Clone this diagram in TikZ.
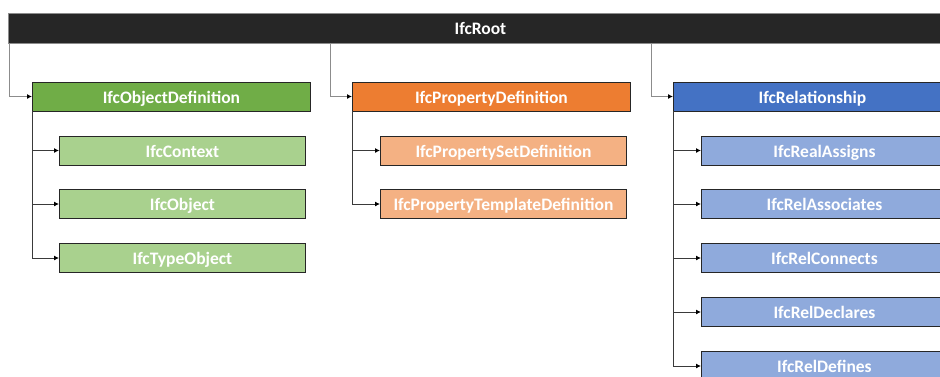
\documentclass[tikz,border=0pt]{standalone}
\usepackage{fontspec}
\setmainfont{Carlito}
\usetikzlibrary{arrows.meta}
\definecolor{rootc}{HTML}{262626}
\definecolor{gA}{HTML}{70AD47}
\definecolor{gB}{HTML}{A9D18E}
\definecolor{oA}{HTML}{ED7D31}
\definecolor{oB}{HTML}{F4B183}
\definecolor{bA}{HTML}{4472C4}
\definecolor{bB}{HTML}{8FAADC}
\definecolor{edgec}{HTML}{262626}
\definecolor{linec}{HTML}{8C8C8C}
\definecolor{linek}{HTML}{3A3A3A}
\tikzset{
  box/.style={draw=edgec, line width=0.9pt, text=white, font=\fontsize{17.5}{19}\selectfont\bfseries, inner sep=0pt, text height=13pt, text depth=0pt, anchor=west},
  parentbox/.style={box, minimum width=278pt, minimum height=29pt},
  childbox/.style={box, minimum width=246pt, minimum height=29pt},
  conn/.style={line width=0.9pt, -{Latex[length=5pt,width=5pt,color=black]}},
}
\begin{document}
\begin{tikzpicture}[x=1pt,y=-1pt]
\useasboundingbox (0,0) rectangle (940,376);
\clip (0,0) rectangle (940,376);
\node[box, fill=rootc, draw=linec, minimum width=944pt, minimum height=30pt] (root) at (8,28) {IfcRoot};

\node[parentbox, fill=gA] (objdef) at (32,96.5) {IfcObjectDefinition};
\node[childbox, fill=gB] (ctx) at (59,150.5) {IfcContext};
\node[childbox, fill=gB] (obj) at (59,204) {IfcObject};
\node[childbox, fill=gB] (typ) at (59,258) {IfcTypeObject};

\node[parentbox, fill=oA] (propdef) at (352,96.5) {IfcPropertyDefinition};
\node[childbox, fill=oB] (pset) at (380,150.5) {IfcPropertySetDefinition};
\node[childbox, fill=oB] (ptpl) at (380,204) {IfcPropertyTemplateDefinition};

\node[parentbox, fill=bA] (rel) at (673,96.5) {IfcRelationship};
\node[childbox, fill=bB] (ra) at (701,150.5) {IfcRealAssigns};
\node[childbox, fill=bB] (rassoc) at (701,204) {IfcRelAssociates};
\node[childbox, fill=bB] (rconn) at (701,258) {IfcRelConnects};
\node[childbox, fill=bB] (rdecl) at (701,312) {IfcRelDeclares};
\node[childbox, fill=bB] (rdef) at (701,366) {IfcRelDefines};

\draw[conn, draw=linec] ([xshift=1pt]root.south west) |- (objdef.west);
\draw[conn, draw=linec] ([xshift=-22pt]propdef.west |- root.south) |- (propdef.west);
\draw[conn, draw=linec] ([xshift=-22pt]rel.west |- root.south) |- (rel.west);

\foreach \c in {ctx,obj,typ}
  \draw[conn, draw=linek] ([xshift=0.5pt]objdef.south west) |- (\c.west);
\foreach \c in {pset,ptpl}
  \draw[conn, draw=linek] ([xshift=0.5pt]propdef.south west) |- (\c.west);
\foreach \c in {ra,rassoc,rconn,rdecl,rdef}
  \draw[conn, draw=linek] ([xshift=0.5pt]rel.south west) |- (\c.west);
\end{tikzpicture}
\end{document}
